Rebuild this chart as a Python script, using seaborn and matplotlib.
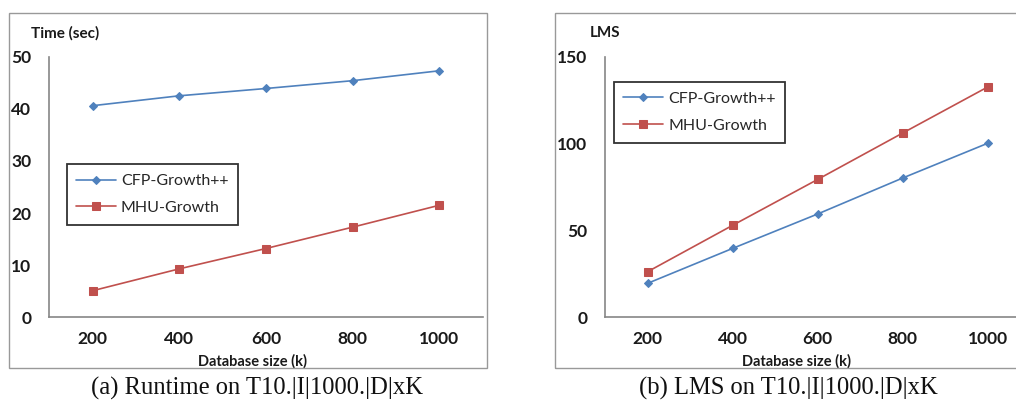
import matplotlib
matplotlib.use("Agg")
import matplotlib.pyplot as plt
import seaborn as sns
import pandas as pd
from matplotlib.patches import Rectangle

# ---- data ----
sizes = ["200", "400", "600", "800", "1000"]
runtime_cfp = [40.6, 42.5, 43.9, 45.4, 47.3]
runtime_mhu = [5.1, 9.3, 13.2, 17.3, 21.5]
lms_cfp = [19.6, 39.7, 59.5, 80.2, 100.2]
lms_mhu = [26.3, 53.0, 79.4, 106.1, 132.6]
series_names = ["CFP-Growth++", "MHU-Growth"]
runtime_ticks = [0, 10, 20, 30, 40, 50]
lms_ticks = [0, 50, 100, 150]

BLUE = "#4F81BD"
RED = "#C0504D"
GRAY = "#868686"

sns.set_style("white")
plt.rcParams["font.family"] = ["Lato", "DejaVu Sans"]

W, H = 1016, 401
fig = plt.figure(figsize=(W / 100, H / 100), dpi=100)


def px_axes(x0, y0, x1, y1):
    return fig.add_axes([x0 / W, 1 - y1 / H, (x1 - x0) / W, (y1 - y0) / H])


ax1 = px_axes(49.3, 56.7, 482.7, 317.3)
ax2 = px_axes(605.3, 56.7, 1030.3, 317.3)

# outer frames
fig.patches.append(Rectangle((9 / W, 1 - 368 / H), (487 - 9) / W, (368 - 13) / H,
                             transform=fig.transFigure, fill=False,
                             edgecolor="#999999", lw=1.0))
fig.patches.append(Rectangle((555 / W, 1 - 368 / H), (1030 - 555) / W, (368 - 13) / H,
                             transform=fig.transFigure, fill=False,
                             edgecolor="#999999", lw=1.0))


def draw(ax, cfp, mhu, ticks, ylim, ylabel, ylab_x, xlab_x, leg_anchor):
    df_c = pd.DataFrame({"size": sizes, "val": cfp})
    df_m = pd.DataFrame({"size": sizes, "val": mhu})
    sns.lineplot(data=df_c, x="size", y="val", ax=ax, color=BLUE, marker="D",
                 markersize=4.5, markeredgecolor=BLUE, lw=1.2, label=series_names[0])
    sns.lineplot(data=df_m, x="size", y="val", ax=ax, color=RED, marker="s",
                 markersize=6, markeredgecolor=RED, lw=1.2, label=series_names[1])
    ax.set_xlim(-0.5, 4.5)
    ax.set_ylim(*ylim)
    ax.set_yticks(ticks)
    for s in ["top", "right"]:
        ax.spines[s].set_visible(False)
    for s in ["left", "bottom"]:
        ax.spines[s].set_color(GRAY)
        ax.spines[s].set_linewidth(1.2)
    ax.tick_params(axis="both", length=0, labelsize=12.5, colors="#1a1a1a")
    ax.tick_params(axis="y", pad=13)
    ax.tick_params(axis="x", pad=10)
    for lab in ax.get_xticklabels() + ax.get_yticklabels():
        lab.set_fontweight("bold")
    ax.set_xlabel("Database size (k)", fontsize=10.5, fontweight="bold", color="#1a1a1a")
    ax.xaxis.set_label_coords(xlab_x, -0.141)
    ax.set_ylabel(ylabel, fontsize=11, fontweight="bold", rotation=0,
                  ha="center", va="center", color="#1a1a1a")
    ax.yaxis.set_label_coords(ylab_x, 1.091)
    ax.set_facecolor("none")
    leg = ax.legend(loc="upper left", bbox_to_anchor=leg_anchor, frameon=True,
                    fancybox=False, edgecolor="black", fontsize=11.5,
                    handlelength=2.5, borderpad=0.6, labelspacing=0.8,
                    handletextpad=0.3, borderaxespad=0)
    leg.get_frame().set_linewidth(1.3)


draw(ax1, runtime_cfp, runtime_mhu, runtime_ticks, (0, 50), "Time (sec)",
     0.036, 0.468, (0.040, 0.587))
draw(ax2, lms_cfp, lms_mhu, lms_ticks, (0, 150), "LMS",
     0.0, 0.449, (0.020, 0.902))

fig.text(257 / W, 1 - 388 / H, "(a) Runtime on T10.|I|1000.|D|xK",
         family=["Liberation Serif", "DejaVu Serif"], fontsize=17.7,
         ha="center", va="center", color="#111111")
fig.text(788 / W, 1 - 388 / H, "(b) LMS on T10.|I|1000.|D|xK",
         family=["Liberation Serif", "DejaVu Serif"], fontsize=17.7,
         ha="center", va="center", color="#111111")

fig.savefig("out.png", dpi=100)
